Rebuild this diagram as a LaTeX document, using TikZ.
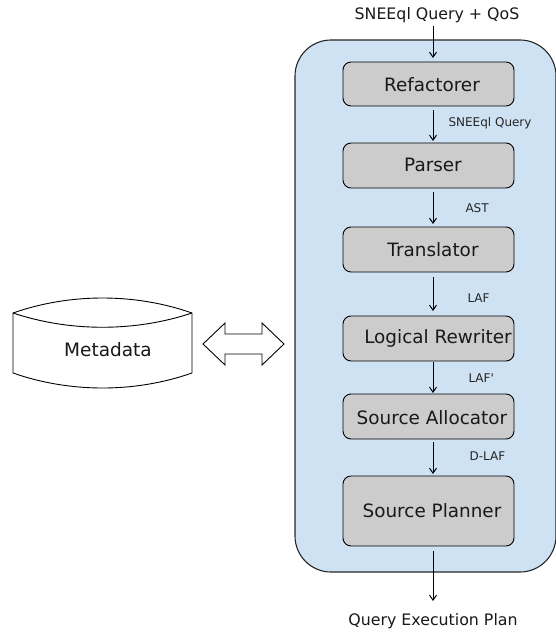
\documentclass[tikz,border=0pt]{standalone}
\usepackage{fontspec}
\setmainfont{DejaVu Sans}
\usetikzlibrary{arrows.meta}
\definecolor{panelblue}{HTML}{CFE2F3}
\definecolor{stagegray}{HTML}{CCCCCC}
\begin{document}
\begin{tikzpicture}[x=1pt,y=-1pt,
  stagebox/.style={draw=black, line width=0.9pt, fill=stagegray, rounded corners=8pt},
  stagetext/.style={font=\fontsize{18.4}{20}\selectfont, text=black!90},
  flow/.style={-{Straight Barb[length=5pt,width=7pt]}, line width=1pt},
  edgelabel/.style={font=\fontsize{12}{14}\selectfont, anchor=west, text=black!85},
  iotext/.style={font=\fontsize{15.8}{18}\selectfont, text=black!90}]
\useasboundingbox (0,0) rectangle (555,634);

% optimizer panel
\draw[fill=panelblue, draw=black!85, line width=1.1pt, rounded corners=36pt]
  (295,40) rectangle (556,572);

% stages
\draw[stagebox] (343,62) rectangle (514,106);
\node[stagetext] (ref) at (432,85) {Refactorer};
\draw[stagebox] (343,143) rectangle (514,188);
\node[stagetext] (par) at (433,165) {Parser};
\draw[stagebox] (343,227) rectangle (514,272);
\node[stagetext] (tra) at (433,250) {Translator};
\draw[stagebox] (343,316) rectangle (514,361);
\node[stagetext] (log) at (438,338) {Logical Rewriter};
\draw[stagebox] (343,394) rectangle (514,439);
\node[stagetext] (all) at (432,418) {Source Allocator};
\draw[stagebox] (343,476) rectangle (514,546);
\node[stagetext] (pla) at (432,511) {Source Planner};

% inputs and outputs
\node[iotext] (in) at (437,15) {SNEEql Query + QoS};
\node[iotext] (out) at (433,621) {Query Execution Plan};

\coordinate (a0s) at (433,26);  \coordinate (a0e) at (433,58);
\coordinate (a1s) at (433,110); \coordinate (a1e) at (433,141);
\coordinate (a2s) at (433,192); \coordinate (a2e) at (433,224);
\coordinate (a3s) at (433,277); \coordinate (a3e) at (433,311);
\coordinate (a4s) at (433,362); \coordinate (a4e) at (433,393);
\coordinate (a5s) at (433,442); \coordinate (a5e) at (433,474);
\coordinate (a6s) at (433,551); \coordinate (a6e) at (433,601);
\draw[flow] (a0s) -- (a0e);
\draw[flow] (a1s) -- (a1e);
\draw[flow] (a2s) -- (a2e);
\draw[flow] (a3s) -- (a3e);
\draw[flow] (a4s) -- (a4e);
\draw[flow] (a5s) -- (a5e);
\draw[flow] (a6s) -- (a6e);

\node[edgelabel] (l1) at (445,123) {SNEEql Query};
\node[edgelabel] (l2) at (462,208) {AST};
\node[edgelabel] (l3) at (464,298) {LAF};
\node[edgelabel] (l4) at (465,378) {LAF\textquotesingle};
\node[edgelabel] (l5) at (466,456) {D-LAF};

% metadata store
\draw[fill=white, draw=black, line width=0.9pt]
  (13,313) .. controls (70,293) and (135,293) .. (192,313)
  -- (192,373) .. controls (135,393) and (70,393) .. (13,373) -- cycle;
\draw[line width=0.9pt] (13,313) .. controls (70,332) and (135,332) .. (192,313);
\node[iotext, font=\fontsize{18.5}{20}\selectfont] (meta) at (108,350) {Metadata};

% two-way exchange arrow
\draw[fill=white, line width=0.9pt]
  (203,344) -- (225,323) -- (225,334) -- (262,334) -- (262,323) -- (284,344)
  -- (262,365) -- (262,354) -- (225,354) -- (225,365) -- cycle;
\end{tikzpicture}
\end{document}
